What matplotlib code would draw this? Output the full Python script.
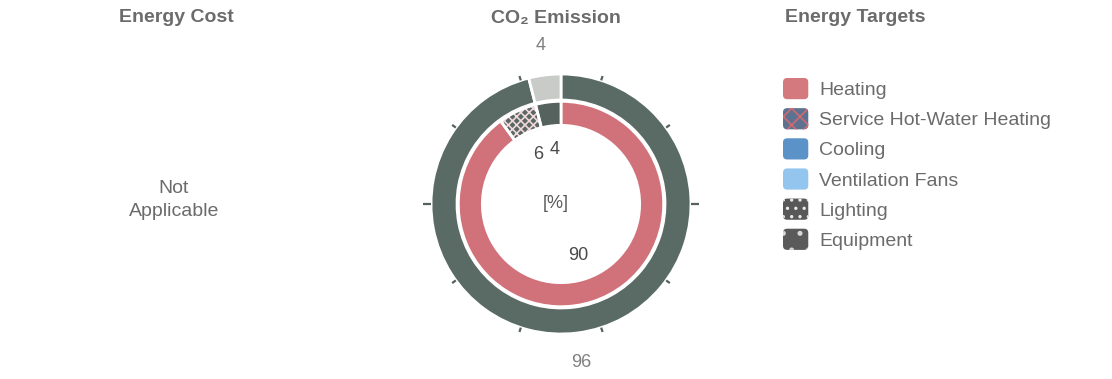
import numpy as np
import matplotlib
matplotlib.use("Agg")
import matplotlib.pyplot as plt
from matplotlib.patches import Patch, FancyBboxPatch, Wedge
from matplotlib.legend_handler import HandlerPatch

plt.rcParams['font.family'] = ['Liberation Sans', 'DejaVu Sans']
plt.rcParams['hatch.linewidth'] = 1.2

# outer ring / inner ring of the CO2 donut (percent)
outer_values = [96, 4]
outer_colors = ['#5a6b66', '#c9cbc9']
inner_values = [90, 6, 4]
inner_colors = ['#d1727a', '#5a6763', '#56625e']
inner_hatch = [None, 'xxxx', None]

targets = ['Heating', 'Service Hot-Water Heating', 'Cooling',
           'Ventilation Fans', 'Lighting', 'Equipment']
target_colors = ['#d47a7e', '#5d7290', '#5b92c8', '#94c5ef', '#585858', '#5a5a5a']
target_hatch = [None, 'xx', None, None, '..', '.']
target_hatch_colors = ['#d47a7e', '#d06a70', '#5b92c8', '#94c5ef', '#e8e8e8', '#d8d8d8']

txt_gray = '#6b6b6b'

fig = plt.figure(figsize=(11.12, 3.79), dpi=100)

# titles
fig.text(176 / 1112, 1 - 18 / 379, 'Energy Cost', ha='center', va='center',
         fontsize=14, fontweight='bold', color=txt_gray)
fig.text(556 / 1112, 1 - 18 / 379, 'CO\u2082 Emission', ha='center', va='center',
         fontsize=14, fontweight='bold', color=txt_gray)
fig.text(855 / 1112, 1 - 18 / 379, 'Energy Targets', ha='center', va='center',
         fontsize=14, fontweight='bold', color=txt_gray)

# left panel: no data
fig.text(174 / 1112, 1 - 200 / 379, 'Not\nApplicable', ha='center', va='center',
         fontsize=14, color=txt_gray, linespacing=1.45)

# middle donut, 130 px = radius 1
cx, cy, half = 561, 204, 175
lim = half / 130
ax = fig.add_axes([(cx - half) / 1112, (379 - cy - half) / 379,
                   2 * half / 1112, 2 * half / 379])

w_out, _ = ax.pie(outer_values, colors=outer_colors, radius=1.0, startangle=90,
                  counterclock=False, wedgeprops=dict(width=0.2, edgecolor='white', linewidth=2))
w_in, _ = ax.pie(inner_values, colors=inner_colors, radius=0.79, startangle=90,
                 counterclock=False, wedgeprops=dict(width=0.185, edgecolor='white', linewidth=2))
for w, h in zip(w_in, inner_hatch):
    if h:
        w.set_hatch(h)
        w.set_edgecolor('#f0d8dc')
        ax.add_patch(Wedge(w.center, w.r, w.theta1, w.theta2, width=w.width,
                           fill=False, edgecolor='white', linewidth=2))

def mid_angles(vals):
    cum = np.cumsum([0] + list(vals))
    frac = (cum[:-1] + cum[1:]) / 2 / sum(vals)
    return np.deg2rad(90 - 360 * frac)

for v, a in zip(outer_values, mid_angles(outer_values)):
    ax.text(1.23 * np.cos(a), 1.23 * np.sin(a), str(v), ha='center', va='center',
            fontsize=13, color='#808080')
for v, a in zip(inner_values, mid_angles(inner_values)):
    ax.text(0.42 * np.cos(a), 0.42 * np.sin(a), str(v), ha='center', va='center',
            fontsize=13, color='#4a4a4a')
ax.text(-0.04, 0, '[%]', ha='center', va='center', fontsize=13, color='#5a5a5a')

# small ticks around the ring
for k in range(10):
    t = np.deg2rad(90 - (18 + 36 * k))
    r2 = 1.065 if k in (2, 7) else 1.035
    ax.plot([1.0 * np.cos(t), r2 * np.cos(t)], [1.0 * np.sin(t), r2 * np.sin(t)],
            color='#56615d', linewidth=1.6, solid_capstyle='butt')

ax.set_xlim(-lim, lim)
ax.set_ylim(-lim, lim)
ax.set_aspect('equal')
ax.axis('off')

# legend panel
class RoundBox(HandlerPatch):
    def create_artists(self, legend, orig_handle, xdescent, ydescent,
                       width, height, fontsize, trans):
        p = FancyBboxPatch((-xdescent + 1.5, -ydescent + 1.5), width - 3, height - 3,
                           boxstyle='round,pad=1.5,rounding_size=3',
                           facecolor=orig_handle.get_facecolor(),
                           edgecolor=orig_handle.get_edgecolor(),
                           hatch=orig_handle.get_hatch(), linewidth=0)
        p.set_transform(trans)
        return [p]

handles = [Patch(facecolor=c, edgecolor=hc, hatch=h)
           for c, h, hc in zip(target_colors, target_hatch, target_hatch_colors)]
lax = fig.add_axes([0.68, 0.0, 0.32, 1.0])
lax.axis('off')
leg = lax.legend(handles, targets, loc='upper left',
                 bbox_to_anchor=(783 / 1112, 1 - 78 / 379),
                 bbox_transform=fig.transFigure, frameon=False, fontsize=14,
                 handlelength=1.3, handleheight=1.3, handletextpad=0.55,
                 labelspacing=0.46, borderaxespad=0, borderpad=0,
                 handler_map={Patch: RoundBox()})
for t in leg.get_texts():
    t.set_color(txt_gray)

fig.savefig('out.png', dpi=100, facecolor='white')
